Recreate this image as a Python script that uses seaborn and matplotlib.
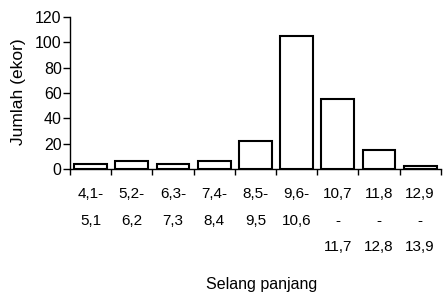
import matplotlib
matplotlib.use("Agg")
import matplotlib.pyplot as plt
import seaborn as sns
import pandas as pd
import numpy as np

categories = ["4,1-\n5,1", "5,2-\n6,2", "6,3-\n7,3", "7,4-\n8,4", "8,5-\n9,5",
              "9,6-\n10,6", "10,7\n-\n11,7", "11,8\n-\n12,8", "12,9\n-\n13,9"]
values = [4, 6, 4, 6, 22, 105, 55, 15, 2]
yticks = [0, 20, 40, 60, 80, 100, 120]

sns.set_theme(style="ticks")
plt.rcParams['font.family'] = ['Liberation Sans', 'DejaVu Sans']

df = pd.DataFrame({"cat": categories, "val": values})

fig = plt.figure(figsize=(4.43, 2.99), dpi=100)
ax = fig.add_axes([0.158, 0.435, 0.837, 0.508])
sns.barplot(data=df, x="cat", y="val", color="white", edgecolor="black",
            linewidth=1.5, width=0.8, ax=ax, saturation=1)

ax.set_xlim(-0.5, len(categories) - 0.5)
ax.set_ylim(0, 120)
ax.set_yticks(yticks)
ax.set_yticklabels([str(t) for t in yticks], fontsize=11.5)
ax.set_xticks(range(len(categories)))
ax.set_xticklabels(categories, fontsize=11, linespacing=2.15, va="top")
ax.set_xticks(np.arange(-0.5, len(categories), 1.0), minor=True)
ax.tick_params(axis="x", which="major", length=0, pad=13, colors="black")
ax.tick_params(axis="x", which="minor", length=4, width=1, direction="out", color="black")
ax.tick_params(axis="y", length=5, width=1, direction="out", colors="black", pad=1)
for s in ["top", "right"]:
    ax.spines[s].set_visible(False)
for s in ["left", "bottom"]:
    ax.spines[s].set_color("black")
    ax.spines[s].set_linewidth(1)

ax.set_ylabel("")
ax.set_xlabel("")
fig.text(19 / 443, 1 - 92 / 299, "Jumlah (ekor)", fontsize=12.5, rotation=90,
         ha="center", va="center", color="black")
fig.text(262 / 443, 1 - 285 / 299, "Selang panjang", fontsize=11.5,
         ha="center", va="center", color="black")

fig.savefig("out.png", dpi=100)
